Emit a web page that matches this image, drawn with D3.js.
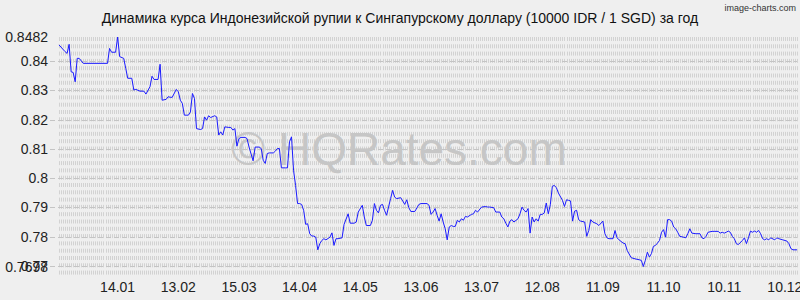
<!DOCTYPE html>
<html lang="ru">
<head>
<meta charset="UTF-8">
<title>IDR / SGD</title>
<script src="https://d3js.org/d3.v7.min.js"></script>
<style>
  body { margin: 0; background: #efefef; }
  text { font-family: "Liberation Sans", Arial, sans-serif; }
</style>
</head>
<body>
<div id="chart"></div>
<script>
// day offsets from 16.12.2024 and rate of 10000 IDR in SGD
const days = [0, 3, 4, 5, 6, 7, 8, 9, 10, 12, 24, 25, 26, 28, 29, 30, 32, 33, 34, 36,
  37, 38, 40, 42, 43, 45, 46, 47, 49, 50, 51, 53, 54, 55, 56, 58, 59, 60, 61, 62,
  64, 65, 66, 67, 68, 70, 71, 72, 73, 74, 75, 77, 78, 79, 80, 81, 82, 84, 85, 86,
  87, 88, 89, 90, 92, 93, 94, 96, 97, 99, 100, 101, 102, 103, 104, 106, 107, 108, 109, 110,
  112, 113, 114, 115, 116, 117, 118, 119, 120, 121, 122, 123, 124, 125, 126, 127, 128, 129, 130, 131,
  132, 134, 135, 136, 137, 138, 140, 141, 143, 144, 146, 147, 148, 150, 151, 152, 154, 155, 156, 157,
  158, 159, 160, 161, 162, 164, 165, 166, 167, 169, 170, 171, 172, 173, 174, 176, 178, 179, 182, 183,
  184, 185, 186, 187, 188, 189, 190, 191, 192, 193, 194, 195, 196, 197, 198, 199, 200, 201, 202, 204,
  205, 206, 207, 209, 211, 212, 213, 215, 216, 218, 219, 220, 221, 222, 223, 224, 225, 227, 228, 229,
  230, 231, 232, 233, 234, 235, 236, 237, 238, 239, 240, 241, 242, 243, 244, 245, 246, 247, 249, 250,
  251, 252, 253, 254, 255, 256, 257, 258, 260, 261, 262, 263, 264, 266, 267, 269, 270, 271, 272, 274,
  275, 276, 277, 279, 280, 281, 283, 285, 287, 288, 289, 290, 291, 292, 293, 294, 295, 296, 297, 298,
  299, 300, 301, 302, 303, 304, 305, 306, 307, 309, 310, 311, 312, 313, 315, 317, 318, 319, 320, 321,
  323, 324, 326, 327, 328, 329, 330, 331, 332, 333, 334, 335, 336, 338, 339, 340, 341, 342, 343, 344,
  345, 346, 347, 348, 349, 350, 351, 352, 354, 355, 356, 358, 360, 361, 362, 363, 365];

const rates = [0.8455, 0.8432, 0.8426, 0.8457, 0.8363, 0.8361, 0.8329, 0.8409, 0.8409, 0.8392, 0.8392, 0.8443, 0.8430, 0.8430, 0.8482, 0.8415, 0.8409, 0.8375, 0.8341, 0.8341,
  0.8301, 0.8303, 0.8297, 0.8297, 0.8287, 0.8312, 0.8348, 0.8337, 0.8337, 0.8389, 0.8266, 0.8269, 0.8278, 0.8276, 0.8276, 0.8303, 0.8295, 0.8266, 0.8255, 0.8215,
  0.8215, 0.8226, 0.8289, 0.8272, 0.8169, 0.8166, 0.8169, 0.8209, 0.8198, 0.8213, 0.8207, 0.8213, 0.8209, 0.8147, 0.8158, 0.8147, 0.8175, 0.8173, 0.8173, 0.8164,
  0.8169, 0.8109, 0.8135, 0.8139, 0.8139, 0.8135, 0.8106, 0.8059, 0.8106, 0.8106, 0.8101, 0.8061, 0.8050, 0.8084, 0.8086, 0.8086, 0.8092, 0.8101, 0.8101, 0.8035,
  0.8035, 0.8035, 0.8124, 0.8141, 0.8027, 0.7975, 0.7913, 0.7913, 0.7910, 0.7890, 0.7842, 0.7844, 0.7810, 0.7802, 0.7802, 0.7798, 0.7755, 0.7776, 0.7787, 0.7793,
  0.7789, 0.7798, 0.7813, 0.7770, 0.7793, 0.7793, 0.7796, 0.7842, 0.7878, 0.7846, 0.7846, 0.7850, 0.7884, 0.7907, 0.7867, 0.7838, 0.7838, 0.7856, 0.7913, 0.7890,
  0.7881, 0.7907, 0.7910, 0.7890, 0.7873, 0.7930, 0.7958, 0.7935, 0.7930, 0.7933, 0.7922, 0.7910, 0.7926, 0.7899, 0.7886, 0.7886, 0.7910, 0.7913, 0.7913, 0.7907,
  0.7876, 0.7884, 0.7896, 0.7873, 0.7853, 0.7878, 0.7850, 0.7827, 0.7789, 0.7833, 0.7838, 0.7835, 0.7835, 0.7856, 0.7850, 0.7861, 0.7856, 0.7869, 0.7867, 0.7876,
  0.7878, 0.7890, 0.7884, 0.7901, 0.7903, 0.7901, 0.7901, 0.7899, 0.7884, 0.7884, 0.7867, 0.7861, 0.7846, 0.7833, 0.7853, 0.7858, 0.7850, 0.7861, 0.7878, 0.7901,
  0.7890, 0.7884, 0.7896, 0.7812, 0.7867, 0.7850, 0.7861, 0.7853, 0.7876, 0.7876, 0.7881, 0.7915, 0.7878, 0.7909, 0.7972, 0.7975, 0.7967, 0.7949, 0.7924, 0.7903,
  0.7926, 0.7924, 0.7922, 0.7853, 0.7887, 0.7890, 0.7858, 0.7853, 0.7850, 0.7801, 0.7821, 0.7858, 0.7850, 0.7844, 0.7838, 0.7853, 0.7810, 0.7796, 0.7793, 0.7793,
  0.7821, 0.7796, 0.7789, 0.7778, 0.7776, 0.7753, 0.7728, 0.7724, 0.7721, 0.7719, 0.7698, 0.7719, 0.7747, 0.7730, 0.7742, 0.7767, 0.7770, 0.7778, 0.7787, 0.7815,
  0.7824, 0.7798, 0.7858, 0.7858, 0.7853, 0.7833, 0.7827, 0.7815, 0.7801, 0.7798, 0.7796, 0.7810, 0.7827, 0.7812, 0.7810, 0.7810, 0.7796, 0.7793, 0.7801, 0.7815,
  0.7818, 0.7818, 0.7818, 0.7812, 0.7815, 0.7812, 0.7815, 0.7819, 0.7815, 0.7801, 0.7793, 0.7776, 0.7773, 0.7787, 0.7796, 0.7776, 0.7796, 0.7819, 0.7815, 0.7819,
  0.7815, 0.7821, 0.7810, 0.7793, 0.7789, 0.7793, 0.7789, 0.7796, 0.7789, 0.7796, 0.7793, 0.7789, 0.7785, 0.7776, 0.7759, 0.7755, 0.7755];

const yTicks = [0.8482, 0.84, 0.83, 0.82, 0.81, 0.8, 0.79, 0.78, 0.77, 0.7698];
const xTickDates = ["2025-01-14", "2025-02-13", "2025-03-15", "2025-04-14", "2025-05-14", "2025-06-13",
  "2025-07-13", "2025-08-12", "2025-09-11", "2025-10-11", "2025-11-10", "2025-12-10"];
const title = "Динамика курса Индонезийской рупии к Сингапурскому доллару (10000 IDR / 1 SGD) за год";

const W = 800, H = 300;
const margin = { top: 37, right: 3, bottom: 34, left: 59 };
const start = new Date(2024, 11, 16);
const end = d3.timeDay.offset(start, 365);
const parse = d3.timeParse("%Y-%m-%d");

const x = d3.scaleTime().domain([start, end]).range([margin.left, W - margin.right]);
const y = d3.scaleLinear().domain([0.7698, 0.8482]).range([H - margin.bottom + 0.5, margin.top]);

const svg = d3.select("#chart").append("svg")
  .attr("width", W).attr("height", H);

svg.append("rect").attr("width", W).attr("height", H).attr("fill", "#efefef");

// daily vertical grid
svg.append("g").selectAll("line")
  .data(d3.timeDay.range(start, d3.timeDay.offset(end, 1)))
  .join("line")
  .attr("x1", d => Math.round(x(d)) + 0.5).attr("x2", d => Math.round(x(d)) + 0.5)
  .attr("y1", margin.top).attr("y2", H - margin.bottom + 11)
  .attr("stroke", "#d2d2d2").attr("stroke-dasharray", "4,3.3");

// horizontal grid + tick marks
svg.append("g").selectAll("line")
  .data(yTicks.slice(1, -1))
  .join("line")
  .attr("x1", margin.left - 9).attr("x2", W - margin.right)
  .attr("y1", d => Math.round(y(d)) + 0.5).attr("y2", d => Math.round(y(d)) + 0.5)
  .attr("stroke", "#c4c4c4").attr("stroke-dasharray", "5,3");

// watermark
svg.append("text")
  .attr("x", 399).attr("y", 165)
  .attr("text-anchor", "middle")
  .attr("font-size", 46)
  .attr("fill", "#c6c6c6")
  .text("© HQRates.com");

const line = d3.line()
  .x((d, i) => x(d3.timeDay.offset(start, days[i])))
  .y(d => y(d));

svg.append("path")
  .datum(rates)
  .attr("fill", "none")
  .attr("stroke", "#1a1aff")
  .attr("stroke-width", 1)
  .attr("d", line);

// y labels
svg.append("g").selectAll("text")
  .data(yTicks)
  .join("text")
  .attr("x", margin.left - 11)
  .attr("y", d => y(d) + 5)
  .attr("text-anchor", "end")
  .attr("font-size", 14)
  .attr("fill", "#222")
  .text(d => d);

// x labels
svg.append("g").selectAll("text")
  .data(xTickDates)
  .join("text")
  .attr("x", d => x(parse(d)))
  .attr("y", 292)
  .attr("text-anchor", "middle")
  .attr("font-size", 14)
  .attr("fill", "#222")
  .text(d => d3.timeFormat("%d.%m")(parse(d)));

svg.append("text")
  .attr("x", 400).attr("y", 23)
  .attr("text-anchor", "middle")
  .attr("font-size", 14)
  .attr("fill", "#111")
  .text(title);

svg.append("text")
  .attr("x", 796).attr("y", 11)
  .attr("text-anchor", "end")
  .attr("font-family", "DejaVu Sans Condensed")
  .attr("font-size", 9)
  .attr("fill", "#333")
  .text("image-charts.com");
</script>
</body>
</html>
